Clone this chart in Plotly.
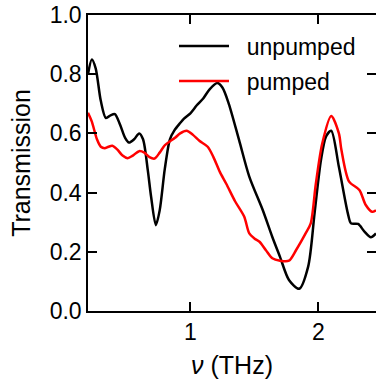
import plotly.graph_objects as go

# Frequency (THz) and transmission
nu_unpumped = [0.20, 0.23, 0.26, 0.30, 0.34, 0.38, 0.41, 0.45, 0.49, 0.52, 0.56, 0.60,
               0.63, 0.667, 0.693, 0.73, 0.76, 0.80, 0.84, 0.875, 0.92, 0.95, 1.00, 1.05,
               1.10, 1.15, 1.21, 1.25, 1.30, 1.38, 1.46, 1.565, 1.64, 1.70, 1.77, 1.85,
               1.92, 1.97, 2.02, 2.06, 2.10, 2.16, 2.23, 2.255, 2.31, 2.36, 2.41, 2.45]
t_unpumped = [0.80, 0.85, 0.82, 0.71, 0.652, 0.662, 0.665, 0.63, 0.585, 0.569, 0.58, 0.60,
              0.58, 0.476, 0.386, 0.29, 0.34, 0.48, 0.58, 0.61, 0.635, 0.65, 0.668, 0.695,
              0.718, 0.749, 0.77, 0.755, 0.70, 0.578, 0.454, 0.341, 0.25, 0.183, 0.105, 0.075,
              0.15, 0.33, 0.51, 0.59, 0.609, 0.487, 0.33, 0.296, 0.294, 0.268, 0.249, 0.262]

nu_pumped = [0.20, 0.23, 0.27, 0.30, 0.33, 0.36, 0.39, 0.43, 0.47, 0.51, 0.55, 0.60,
             0.64, 0.68, 0.72, 0.76, 0.80, 0.836, 0.88, 0.92, 0.97, 1.02, 1.07, 1.135,
             1.18, 1.23, 1.28, 1.35, 1.42, 1.46, 1.50, 1.54, 1.59, 1.64, 1.70, 1.77,
             1.826, 1.90, 1.94, 1.98, 2.03, 2.10, 2.16, 2.18, 2.24, 2.32, 2.37, 2.42, 2.45]
t_pumped = [0.67, 0.64, 0.58, 0.555, 0.55, 0.555, 0.558, 0.545, 0.525, 0.516, 0.525, 0.54,
            0.535, 0.52, 0.515, 0.535, 0.56, 0.572, 0.585, 0.60, 0.609, 0.595, 0.575, 0.555,
            0.52, 0.47, 0.43, 0.37, 0.319, 0.262, 0.245, 0.234, 0.205, 0.178, 0.17, 0.17,
            0.206, 0.262, 0.296, 0.43, 0.566, 0.659, 0.60, 0.544, 0.437, 0.409, 0.358, 0.335, 0.34]

y_ticks = [0.0, 0.2, 0.4, 0.6, 0.8, 1.0]
y_ticklabels = ["0.0", "0.2", "0.4", "0.6", "0.8", "1.0"]
x_ticks = [1, 2]
x_ticklabels = ["1", "2"]

FONT = "Liberation Sans, Arial, sans-serif"
NB = "\u00a0\u00a0"

fig = go.Figure()
fig.add_trace(go.Scatter(x=nu_unpumped, y=t_unpumped, mode="lines", name=NB + "unpumped",
                         legend="legend",
                         line=dict(color="black", width=2.5, shape="spline", smoothing=0.8)))
fig.add_trace(go.Scatter(x=nu_pumped, y=t_pumped, mode="lines", name=NB + "pumped",
                         legend="legend2",
                         line=dict(color="#ff0000", width=2.5, shape="spline", smoothing=0.8)))
fig.add_trace(go.Scatter(x=[], y=[], yaxis="y2", showlegend=False))

title_font = dict(family=FONT, size=25, color="black")
leg_common = dict(xanchor="left", yanchor="middle", bgcolor="rgba(0,0,0,0)",
                  font=dict(family=FONT, size=23, color="black"), itemwidth=50, borderwidth=0)
fig.update_layout(
    width=376, height=379,
    margin=dict(l=88, r=0, t=15, b=68),
    paper_bgcolor="white", plot_bgcolor="white",
    font=dict(family=FONT, size=23, color="black"),
    xaxis=dict(range=[0.2, 2.45], tickvals=x_ticks, ticktext=x_ticklabels,
               ticks="inside", ticklen=9, tickwidth=1.5, tickcolor="black",
               showline=True, linecolor="black", linewidth=1.5, mirror="ticks",
               showgrid=False, zeroline=False,
               title=dict(text="\u00a0<i>ν</i> (THz)", standoff=13, font=title_font),
               tickfont=dict(family=FONT, size=23)),
    yaxis=dict(range=[0, 1], tickvals=y_ticks, ticktext=y_ticklabels,
               ticks="inside", ticklen=9, tickwidth=1.5, tickcolor="black",
               showline=True, linecolor="black", linewidth=1.5,
               showgrid=False, zeroline=False,
               title=dict(text="Transmission", standoff=12, font=title_font),
               tickfont=dict(family=FONT, size=23)),
    yaxis2=dict(range=[0, 1], overlaying="y", side="right", anchor="x",
                tickvals=y_ticks, showticklabels=False,
                ticks="inside", ticklen=9, tickwidth=1.5, tickcolor="black",
                showline=False, showgrid=False, zeroline=False),
    legend=dict(x=(174 - 88) / 288, y=(311 - 46) / 296, **leg_common),
    legend2=dict(x=(174 - 88) / 288, y=(311 - 81) / 296, **leg_common),
    showlegend=True,
)

fig.write_html("out.html")
